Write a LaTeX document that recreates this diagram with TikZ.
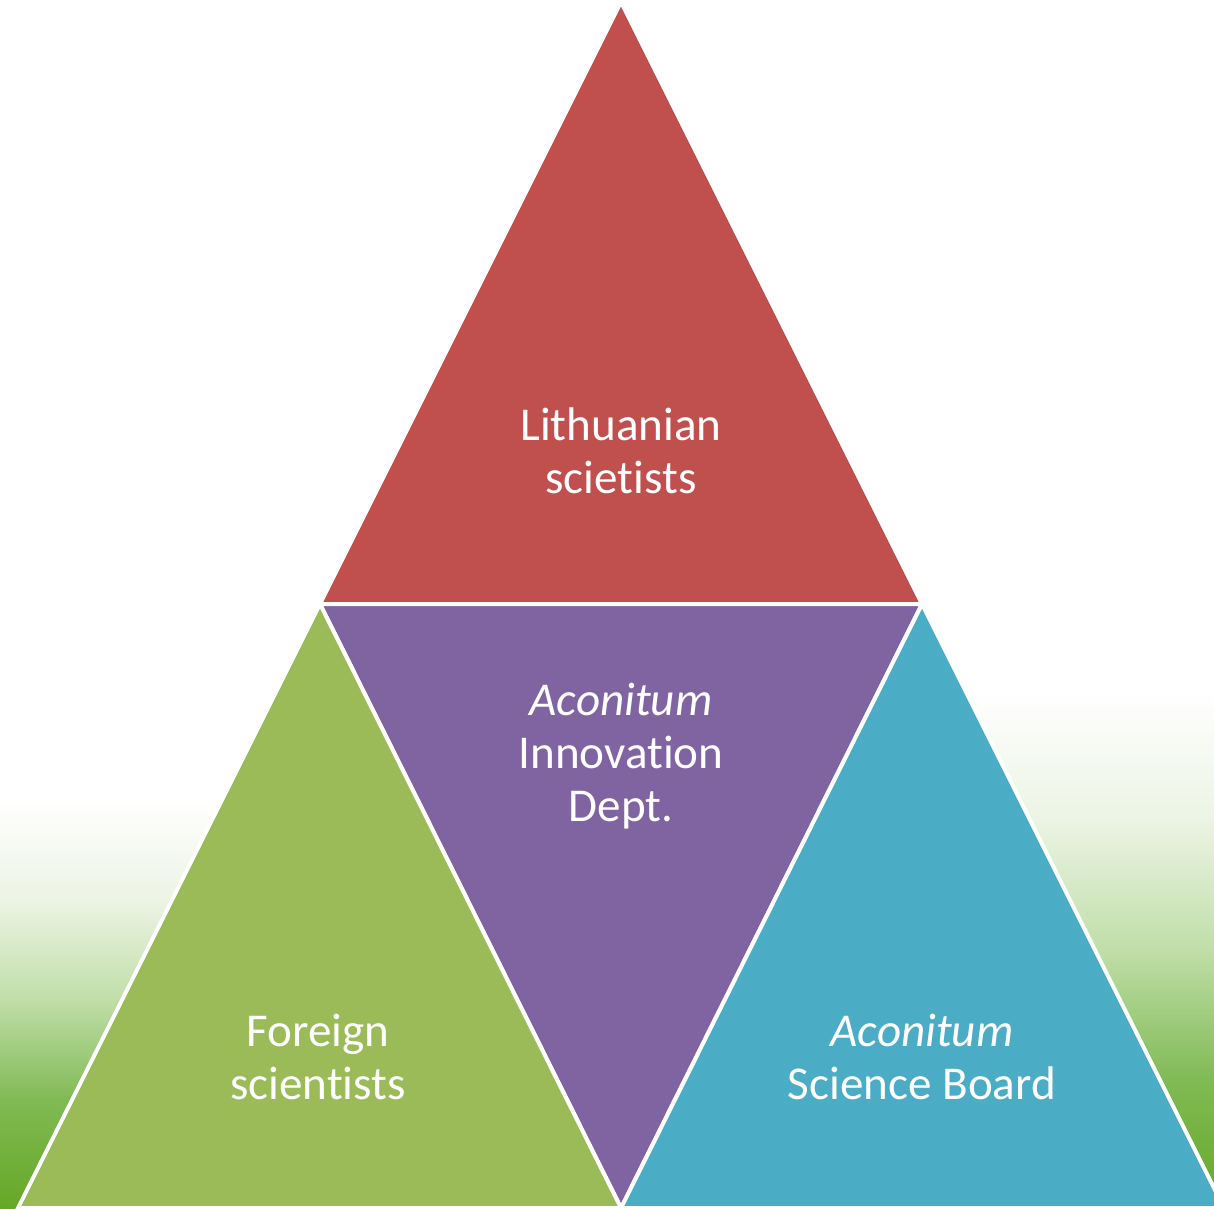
\documentclass[tikz,border=0pt]{standalone}
\usepackage{fontspec}
\setmainfont{Carlito}[RawFeature={-liga}]
\definecolor{tred}{RGB}{192,80,77}
\definecolor{tpurple}{RGB}{128,100,162}
\definecolor{tgreen}{RGB}{155,187,89}
\definecolor{tblue}{RGB}{75,172,198}
\definecolor{g1}{RGB}{102,168,38}
\definecolor{g2}{RGB}{128,186,84}
\definecolor{g3}{RGB}{192,222,168}
\definecolor{g4}{RGB}{236,244,228}
\tikzset{
  tri/.style={draw=white, line width=0.1cm, line join=miter},
  lbl/.style={text=white, align=center, font=\fontsize{33.5}{37.7}\selectfont, inner sep=0pt}
}
\begin{document}
\begin{tikzpicture}[x=0.025cm, y=-0.025cm]
\useasboundingbox (0,0) rectangle (1214,1208);
\clip (0,0) rectangle (1214,1208);
\fill[white] (0,0) rectangle (1214,1208);
% background green corners
\shade[top color=white, bottom color=g4] (0,800) rectangle (607,900);
\shade[top color=g4, bottom color=g3] (0,900) rectangle (607,1000);
\shade[top color=g3, bottom color=g2] (0,1000) rectangle (607,1100);
\shade[top color=g2, bottom color=g1] (0,1100) rectangle (607,1208);
\shade[top color=white, bottom color=g4] (607,690) rectangle (1214,820);
\shade[top color=g4, bottom color=g3] (607,820) rectangle (1214,950);
\shade[top color=g3, bottom color=g2] (607,950) rectangle (1214,1080);
\shade[top color=g2, bottom color=g1] (607,1080) rectangle (1214,1208);
% triangles
\coordinate (T) at (621,2);
\coordinate (BL) at (18,1208);
\coordinate (BR) at (1224,1208);
\coordinate (ML) at (320,604);
\coordinate (MR) at (922,604);
\coordinate (MB) at (621,1208);
\filldraw[tri, fill=tred] (T) -- (MR) -- (ML) -- cycle;
\filldraw[tri, fill=tpurple] (ML) -- (MR) -- (MB) -- cycle;
\filldraw[tri, fill=tgreen] (ML) -- (MB) -- (BL) -- cycle;
\filldraw[tri, fill=tblue] (MR) -- (BR) -- (MB) -- cycle;
% labels
\node[lbl] (lith) at (621,451) {Lithuanian\\scietists};
\node[lbl] (innov) at (621,756) {\textit{Aconitum}\\Innovation\\Dept.};
\node[lbl] (foreign) at (318,1057) {Foreign\\scientists};
\node[lbl] (board) at (922,1057) {\textit{Aconitum}\\Science Board};
\end{tikzpicture}
\end{document}
